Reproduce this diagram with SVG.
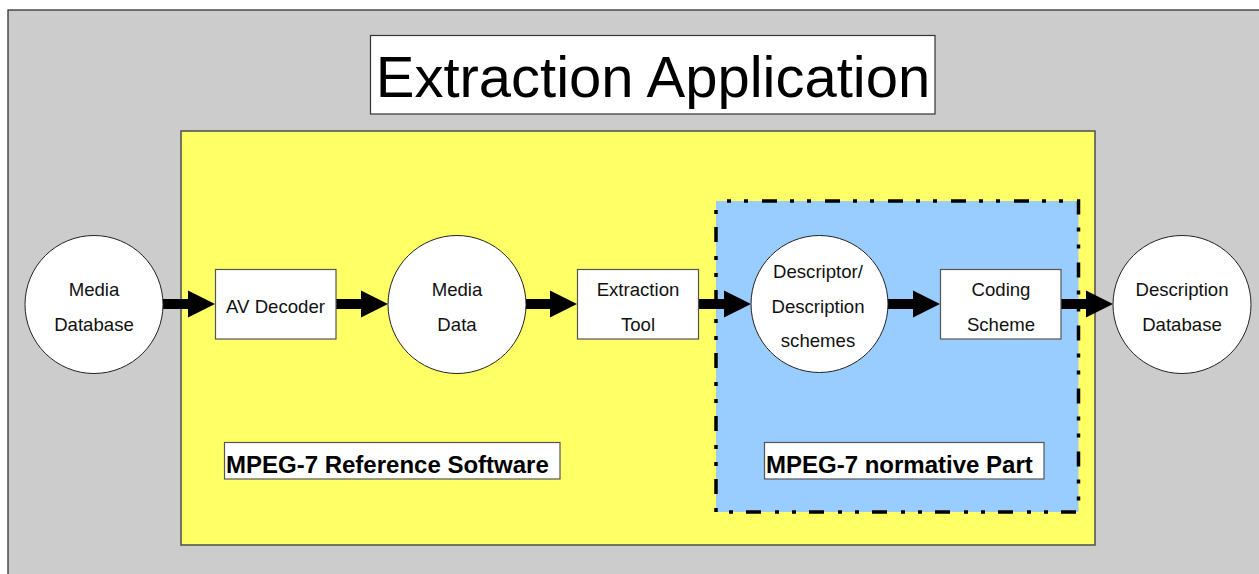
<svg xmlns="http://www.w3.org/2000/svg" width="1259" height="574" viewBox="0 0 1259 574">
<style>
.node-text{font-family:"Liberation Sans",Arial,sans-serif;font-size:18.6px;fill:#111;text-anchor:middle}
.box{fill:#fff;stroke:#555;stroke-width:1.2}
.circ{fill:#fff;stroke:#222;stroke-width:1}
.label{font-family:"Liberation Sans",Arial,sans-serif;font-size:24px;font-weight:bold;fill:#000}
.conn{stroke:#000;stroke-width:10;fill:none}
</style>
<defs>
<marker id="ah" markerUnits="userSpaceOnUse" markerWidth="28" markerHeight="28" refX="1" refY="14" orient="auto" overflow="visible">
<path d="M0,0.5 L27,14 L0,27.5 z" fill="#000"/>
</marker>
</defs>
<rect width="1259" height="574" fill="#fff"/>
<g id="background">
<rect x="8" y="10" width="1270" height="580" fill="#ccc" stroke="#333" stroke-width="1.3"/>
<rect x="181" y="131" width="914" height="414" fill="#ff6" stroke="#4d4d4d" stroke-width="1.5"/>
<rect x="716" y="201" width="362.5" height="311" fill="#9cf"/>
<rect x="716" y="201" width="362.5" height="311" fill="none" stroke="#000" stroke-width="3.5" stroke-dasharray="15 13 4 13 4 14" stroke-dashoffset="17"/>
</g>
<g id="title">
<rect x="370.5" y="35.5" width="564.5" height="78.5" fill="#fff" stroke="#333" stroke-width="1.2"/>
<text x="653" y="97" font-family="'Liberation Sans',Arial,sans-serif" font-size="58" fill="#000" text-anchor="middle">Extraction Application</text>
</g>
<g id="label-reference">
<rect x="224.5" y="442.5" width="335.5" height="36.5" fill="#fff" stroke="#555" stroke-width="1.2"/>
<text class="label" x="226" y="472.5">MPEG-7 Reference Software</text>
</g>
<g id="label-normative">
<rect x="764.5" y="442.5" width="279.5" height="36.5" fill="#fff" stroke="#555" stroke-width="1.2"/>
<text class="label" x="766" y="472.5">MPEG-7 normative Part</text>
</g>
<g id="connectors">
<line class="conn" x1="163" y1="304" x2="189" y2="304" marker-end="url(#ah)"/>
<line class="conn" x1="336" y1="304" x2="362" y2="304" marker-end="url(#ah)"/>
<line class="conn" x1="526" y1="304" x2="551" y2="304" marker-end="url(#ah)"/>
<line class="conn" x1="699" y1="304" x2="725" y2="304" marker-end="url(#ah)"/>
<line class="conn" x1="888" y1="304" x2="914" y2="304" marker-end="url(#ah)"/>
<line class="conn" x1="1061" y1="304" x2="1087" y2="304" marker-end="url(#ah)"/>
</g>
<g id="media-database">
<circle class="circ" cx="94" cy="304.5" r="69"/>
<text class="node-text" x="94" y="296">Media</text>
<text class="node-text" x="94" y="331">Database</text>
</g>
<g id="av-decoder">
<rect class="box" x="215.5" y="269.5" width="120.5" height="69.5"/>
<text class="node-text" x="275.5" y="313">AV Decoder</text>
</g>
<g id="media-data">
<circle class="circ" cx="457" cy="304.5" r="69"/>
<text class="node-text" x="457" y="296">Media</text>
<text class="node-text" x="457" y="331">Data</text>
</g>
<g id="extraction-tool">
<rect class="box" x="577.5" y="269.5" width="121" height="69.5"/>
<text class="node-text" x="638" y="296">Extraction</text>
<text class="node-text" x="638" y="331">Tool</text>
</g>
<g id="descriptor">
<circle class="circ" cx="819.5" cy="304" r="68.5"/>
<text class="node-text" x="818" y="278">Descriptor/</text>
<text class="node-text" x="818" y="313">Description</text>
<text class="node-text" x="818" y="347">schemes</text>
</g>
<g id="coding-scheme">
<rect class="box" x="940.5" y="269.5" width="120.5" height="69.5"/>
<text class="node-text" x="1001" y="296">Coding</text>
<text class="node-text" x="1001" y="331">Scheme</text>
</g>
<g id="description-database">
<circle class="circ" cx="1182" cy="304.5" r="69"/>
<text class="node-text" x="1182" y="296">Description</text>
<text class="node-text" x="1182" y="331">Database</text>
</g>
</svg>
